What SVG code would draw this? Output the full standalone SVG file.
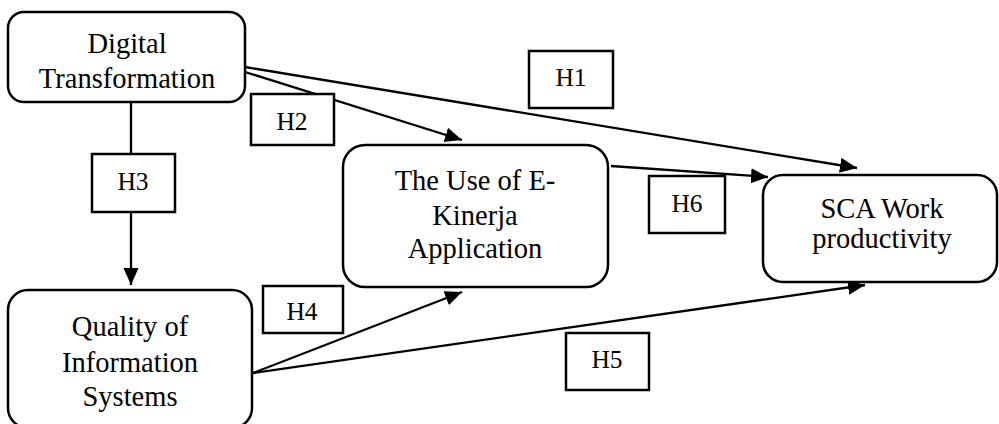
<svg xmlns="http://www.w3.org/2000/svg" width="999" height="424" viewBox="0 0 999 424">
<style>
.node{fill:#fff;stroke:#000;stroke-width:2.5}
.lbl{fill:#fff;stroke:#000;stroke-width:2.5}
.t{font-family:"Liberation Serif","Times New Roman",serif;font-size:28.5px;fill:#000;text-anchor:middle}
.h{font-family:"Liberation Serif","Times New Roman",serif;font-size:25.5px;fill:#000;text-anchor:middle}
.c{fill:none;stroke:#000;stroke-width:2.3}
</style>
<defs>
<marker id="arr" markerUnits="userSpaceOnUse" markerWidth="18" markerHeight="16" refX="17" refY="7.5" orient="auto">
<path d="M0,0 L17,7.5 L0,15 z" fill="#000"/>
</marker>
</defs>
<g id="connectors">
<line class="c" x1="245" y1="67" x2="857" y2="168" marker-end="url(#arr)"/>
<line class="c" x1="245" y1="72" x2="462" y2="140" marker-end="url(#arr)"/>
<line class="c" x1="131" y1="102" x2="131" y2="285" marker-end="url(#arr)"/>
<line class="c" x1="611" y1="166" x2="768" y2="177" marker-end="url(#arr)"/>
<line class="c" x1="253" y1="373" x2="462" y2="292" marker-end="url(#arr)"/>
<line class="c" x1="253" y1="373" x2="865" y2="285" marker-end="url(#arr)"/>
</g>
<g id="dt">
<rect class="node" x="8" y="12" width="237" height="90" rx="16"/>
<text class="t" x="127" y="53">Digital</text>
<text class="t" x="127" y="88">Transformation</text>
</g>
<g id="euse">
<rect class="node" x="343" y="145" width="265" height="142" rx="22"/>
<text class="t" x="475" y="190">The Use of E-</text>
<text class="t" x="475" y="225">Kinerja</text>
<text class="t" x="475" y="258">Application</text>
</g>
<g id="sca">
<rect class="node" x="763" y="175" width="234" height="107" rx="20"/>
<text class="t" x="882" y="218">SCA Work</text>
<text class="t" x="882" y="248">productivity</text>
</g>
<g id="qis">
<rect class="node" x="8" y="290" width="244" height="138" rx="20"/>
<text class="t" x="130" y="336">Quality of</text>
<text class="t" x="130" y="372">Information</text>
<text class="t" x="130" y="406">Systems</text>
</g>
<g id="h1"><rect class="lbl" x="529" y="51" width="84" height="57"/><text class="h" x="571" y="86">H1</text></g>
<g id="h2"><rect class="lbl" x="251" y="94" width="83" height="51"/><text class="h" x="292" y="130">H2</text></g>
<g id="h3"><rect class="lbl" x="92" y="154" width="83" height="58"/><text class="h" x="133" y="190">H3</text></g>
<g id="h4"><rect class="lbl" x="263" y="286" width="80" height="47"/><text class="h" x="302" y="320">H4</text></g>
<g id="h5"><rect class="lbl" x="566" y="333" width="83" height="57"/><text class="h" x="607" y="368">H5</text></g>
<g id="h6"><rect class="lbl" x="649" y="176" width="76" height="57"/><text class="h" x="687" y="212">H6</text></g>
</svg>
